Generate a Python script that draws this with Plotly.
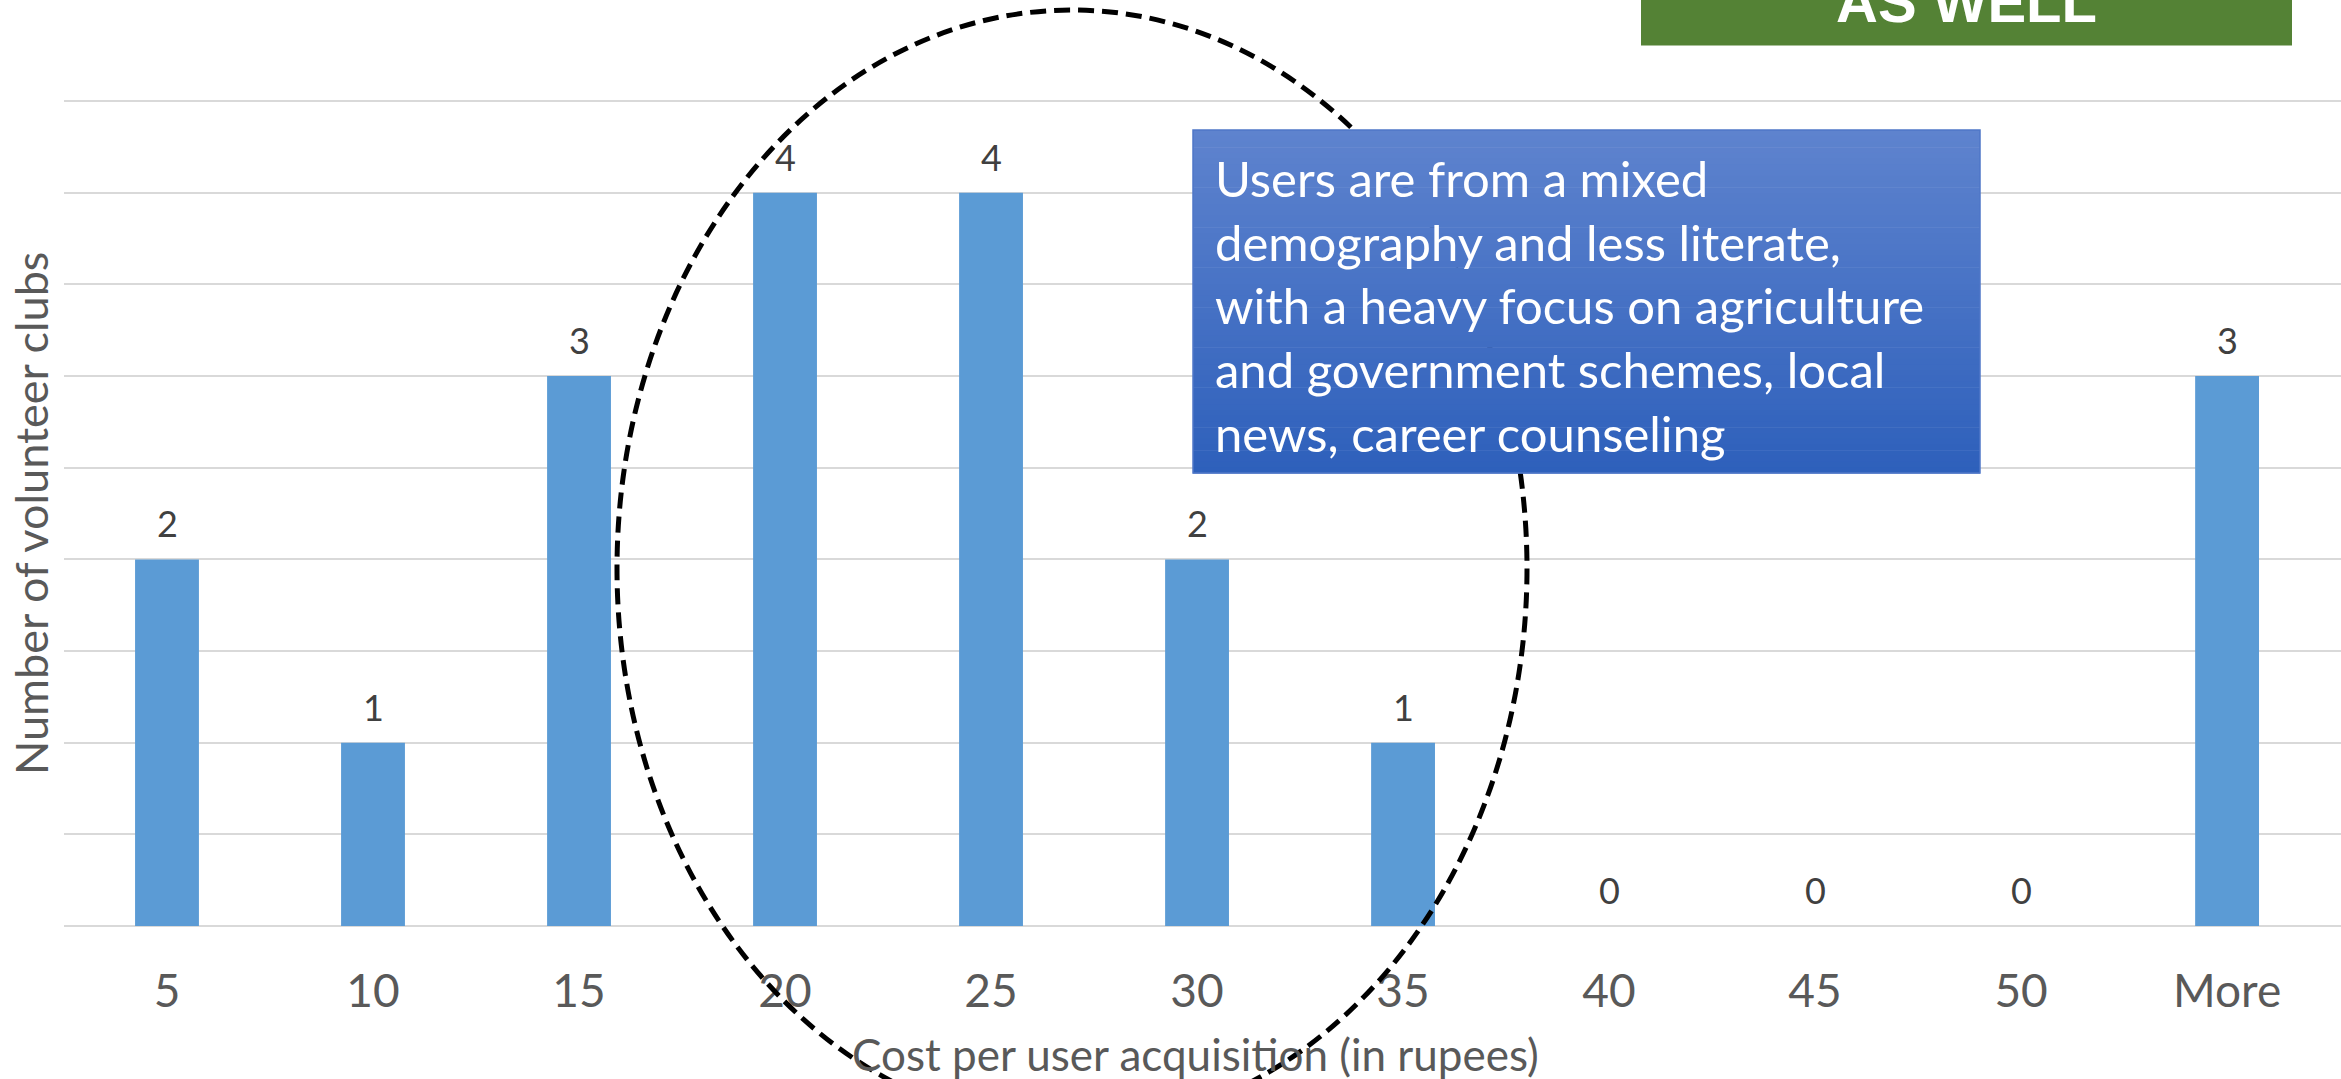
import plotly.graph_objects as go

# ---------------- data ----------------
categories = ["5", "10", "15", "20", "25", "30", "35", "40", "45", "50", "More"]
counts = [2, 1, 3, 4, 4, 2, 1, 0, 0, 0, 3]

y_title = "Number of volunteer clubs"
x_title = "Cost per user acquisition (in rupees)"
callout_lines = [
    "Users are from a mixed",
    "demography and less literate,",
    "with a heavy focus on agriculture",
    "and government schemes, local",
    "news, career counseling",
]
banner_text = "AS WELL"

# ---------------- layout helpers ----------------
W, H = 2341, 1079
Y_TOP = 4.55
ML, MR, MB = 64, 0, 153
MT = 92
PW = W - ML - MR
PH = H - MT - MB


def px(x):
    return (x - ML) / PW


def py(y):
    return (H - MB - y) / PH


FONT = "Lato"
TXT = "#595959"

fig = go.Figure(
    go.Bar(
        x=categories,
        y=counts,
        marker=dict(color="#5B9BD5", line=dict(width=0)),
        width=0.31,
        hoverinfo="skip",
    )
)

annotations = []
for i, v in enumerate(counts):
    annotations.append(dict(
        x=i, y=v, xref="x", yref="y", text=str(v), showarrow=False,
        yanchor="middle", yshift=36,
        font=dict(family=FONT, size=36, color="#404040"),
    ))

# axis titles
annotations.append(dict(
    x=px(1195), y=py(1054), xref="paper", yref="paper", text=x_title,
    showarrow=False, xanchor="center", yanchor="middle",
    font=dict(family=FONT, size=44, color=TXT),
))
annotations.append(dict(
    x=px(31), y=py(514), xref="paper", yref="paper", text=y_title,
    showarrow=False, xanchor="center", yanchor="middle", textangle=-90,
    font=dict(family=FONT, size=45, color=TXT),
))

# callout text
annotations.append(dict(
    x=px(1213), y=py(305), xref="paper", yref="paper",
    text="<br>".join(callout_lines), align="left",
    showarrow=False, xanchor="left", yanchor="middle",
    font=dict(family=FONT, size=49, color="white"),
))

# banner text (cut at top of page, as in the original slide)
annotations.append(dict(
    x=px(1966), y=py(36), xref="paper", yref="paper", text="<b>%s</b>" % banner_text,
    showarrow=False, xanchor="center", yanchor="bottom",
    font=dict(family="Liberation Sans", size=58, color="white"),
))

shapes = []
# dashed ellipse
shapes.append(dict(
    type="circle", xref="paper", yref="paper", layer="above",
    x0=px(1072 - 455), x1=px(1072 + 455), y0=py(567 + 560), y1=py(567 - 557),
    line=dict(color="black", width=5, dash="16px,8px"),
    fillcolor="rgba(0,0,0,0)",
))

# gradient callout box
bx0, bx1, by0, by1 = 1193, 1980, 130, 473
top_c = (94, 131, 206)
bot_c = (46, 96, 187)
N = 60
for i in range(N):
    t = i / (N - 1)
    col = tuple(round(top_c[k] + (bot_c[k] - top_c[k]) * t) for k in range(3))
    ya = by0 + (by1 - by0) * i / N
    yb = by0 + (by1 - by0) * (i + 1) / N + 0.6
    shapes.append(dict(
        type="rect", xref="paper", yref="paper", layer="above",
        x0=px(bx0), x1=px(bx1), y0=py(yb), y1=py(ya),
        fillcolor="rgb(%d,%d,%d)" % col, line=dict(width=0),
    ))
shapes.append(dict(
    type="rect", xref="paper", yref="paper", layer="above",
    x0=px(bx0), x1=px(bx1), y0=py(by1), y1=py(by0),
    fillcolor="rgba(0,0,0,0)", line=dict(color="#4F77C8", width=1.5),
))

# green banner
shapes.append(dict(
    type="rect", xref="paper", yref="paper", layer="above",
    x0=px(1641), x1=px(2292), y0=py(45.6), y1=py(-5),
    fillcolor="#548235", line=dict(width=0),
))

fig.update_layout(
    width=W, height=H,
    margin=dict(l=ML, r=MR, t=MT, b=MB, pad=0),
    paper_bgcolor="white", plot_bgcolor="white",
    showlegend=False,
    bargap=0.69,
    annotations=annotations,
    shapes=shapes,
    xaxis=dict(
        type="category", range=[-0.5, 10.553],
        showgrid=False, showline=False, zeroline=False, ticks="",
        tickfont=dict(family=FONT, size=46, color=TXT),
        ticklabelstandoff=34,
        fixedrange=True,
    ),
    yaxis=dict(
        range=[0, Y_TOP], tick0=0, dtick=0.5,
        showgrid=True, gridcolor="#D9D9D9", gridwidth=1.5,
        zeroline=True, zerolinecolor="#D9D9D9", zerolinewidth=1.5,
        showline=False, showticklabels=False, ticks="",
        fixedrange=True,
    ),
)

fig.write_html("out.html", config={"displayModeBar": False})
